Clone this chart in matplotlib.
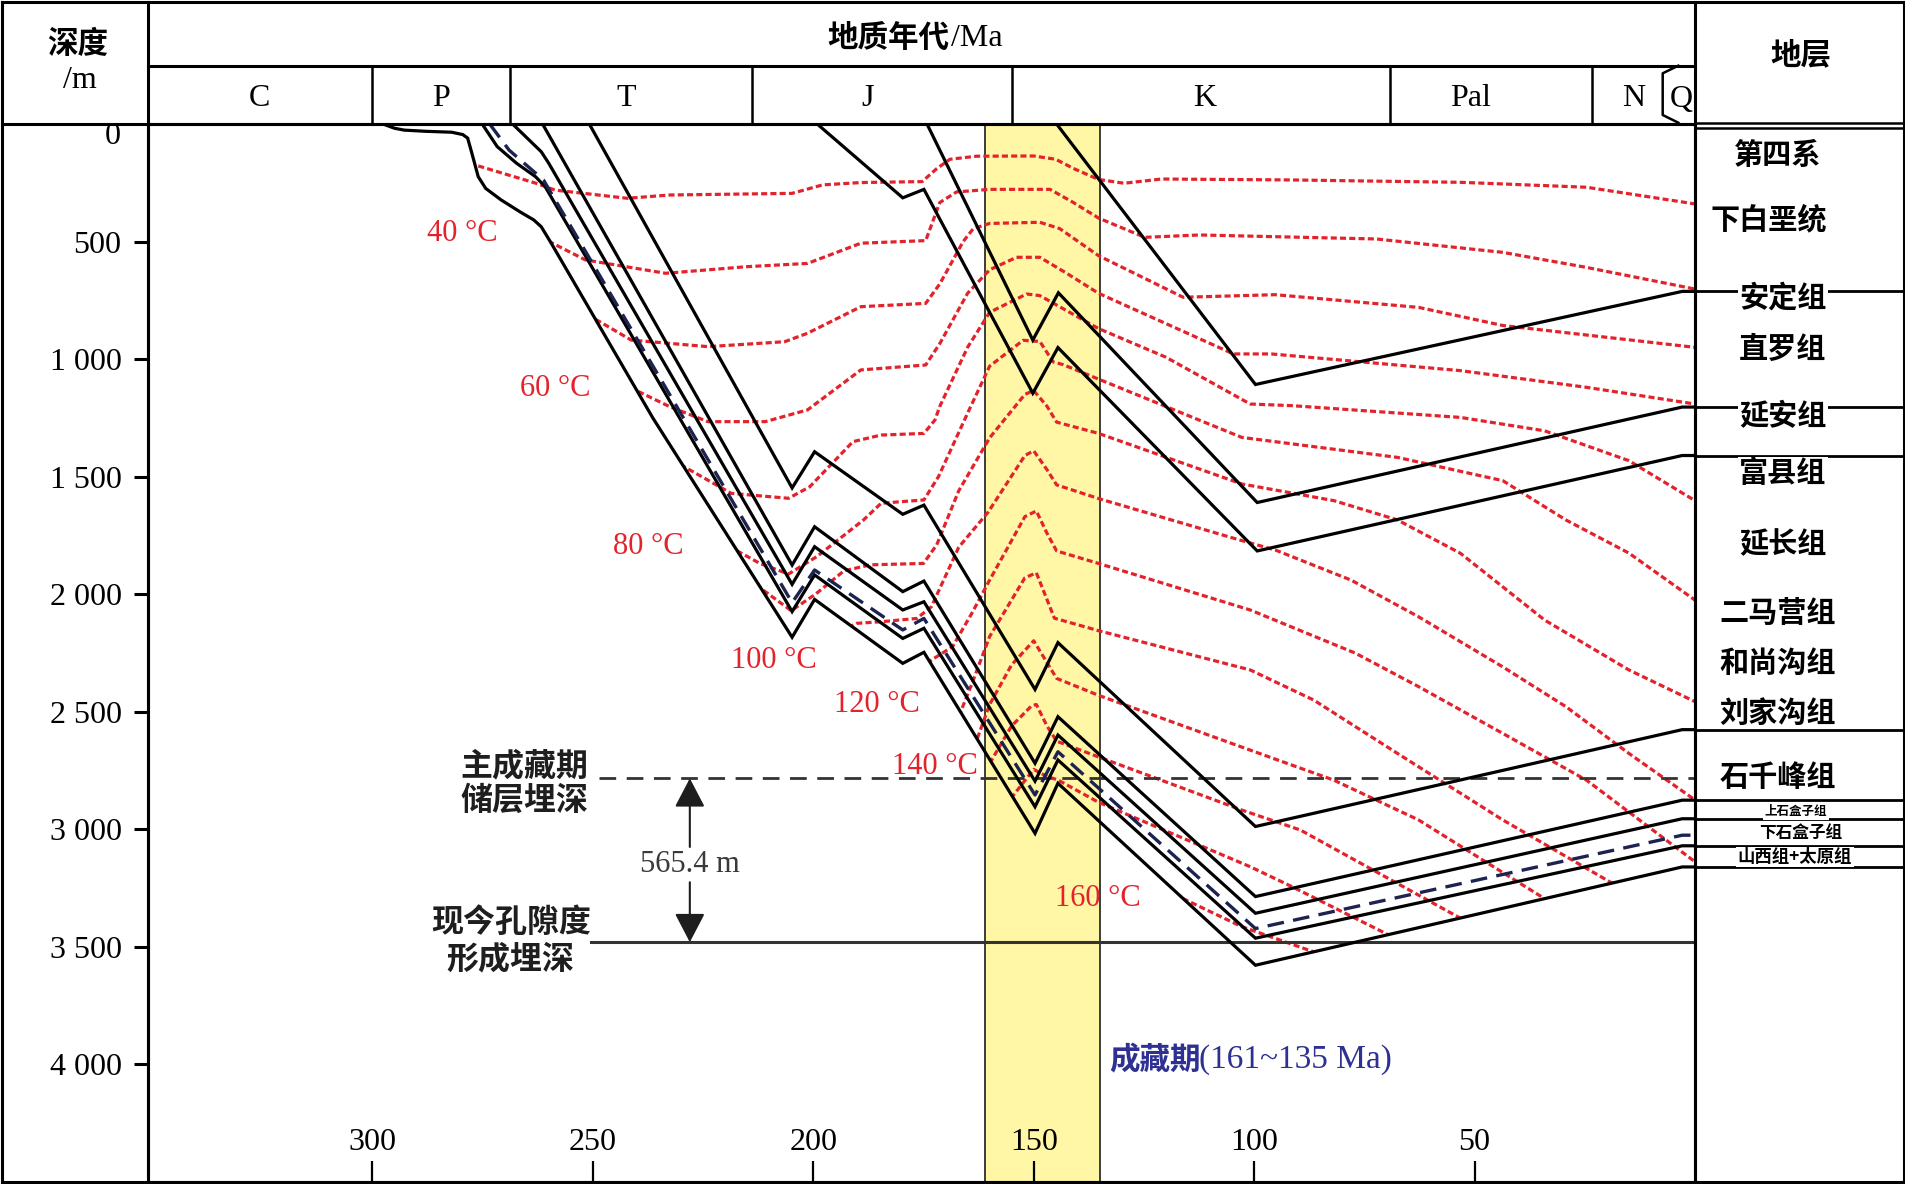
import matplotlib
matplotlib.use('Agg')
import matplotlib.pyplot as plt
from matplotlib.patches import Polygon

# ---- burial curves (age Ma, depth m) ----
c1 = [(144.8, 0), (99.7, 1108), (2.9, 712), (0, 712)]
c2 = [(174.2, 0), (150.2, 919), (144.4, 718), (99.3, 1610), (2.9, 1204), (0, 1204)]
c3 = [(199.1, 0), (179.7, 314), (174.9, 278), (150.2, 1145), (144.5, 951), (99.3, 1816),
      (2.9, 1410), (0, 1410)]
c4 = [(250.8, 0), (204.8, 1548), (199.7, 1394), (179.7, 1660), (174.9, 1621), (149.7, 2405),
      (144.5, 2206), (99.7, 2988), (2.9, 2576), (0, 2576)]
c5 = [(261.4, 0), (204.8, 1876), (199.7, 1713), (179.7, 1989), (174.9, 1944), (149.7, 2719),
      (144.5, 2521), (99.7, 3286), (2.9, 2876), (0, 2876)]
c6 = [(268.2, 0), (261.7, 118), (260.0, 167), (204.8, 1958), (199.7, 1798), (179.7, 2067),
      (174.9, 2032), (149.7, 2795), (144.5, 2599), (99.7, 3357), (2.9, 2955), (0, 2955)]
reservoir = [(273.4, 0), (269.0, 111), (261.2, 238), (204.8, 2036), (199.7, 1897), (179.7, 2152),
             (174.9, 2103), (149.7, 2854), (144.5, 2670), (99.7, 3422), (2.9, 3025), (0, 3025)]
c8 = [(275.1, 0), (271.7, 96), (267.3, 167), (263.0, 224), (260.8, 267), (204.8, 2074),
      (199.7, 1918), (179.7, 2188), (174.9, 2145), (149.7, 2904), (144.5, 2705), (99.7, 3463),
      (2.9, 3070), (0, 3070)]
c9 = [(297.6, 0), (295, 18), (292.8, 26), (288, 31), (282, 35), (279.5, 45), (278.4, 60),
      (277.5, 120), (276, 224), (274.3, 274), (270.8, 323), (266.4, 375), (263.4, 408),
      (261.7, 437), (259.5, 505), (236.4, 1250), (204.8, 2183), (199.7, 2022), (179.7, 2294),
      (174.9, 2247), (149.7, 3017), (144.5, 2804), (99.7, 3578), (2.9, 3160), (0, 3160)]
black_curves = [c1, c2, c3, c4, c5, c6, c8, c9]

# ---- isotherms (age Ma, depth m) ----
iso30 = [(278, 167), (262.9, 252), (258.6, 281), (242.2, 316), (232.6, 302), (204.8, 295),
         (197.9, 259), (189.2, 249), (175.3, 245), (172, 190), (169, 150), (163, 137), (150, 136),
         (145, 150), (141, 189), (135.3, 236), (129.5, 252), (121, 234), (91.4, 238), (53.2, 248),
         (24.6, 269), (0, 340)]
iso40 = [(262, 480), (251.7, 578), (233.5, 635), (215.2, 607), (201.3, 593), (189.2, 507),
         (174.5, 496), (171.3, 334), (167.5, 289), (160, 278), (146.3, 278), (141, 334),
         (135.3, 400), (124.8, 482), (112.4, 472), (72.3, 489), (43.6, 546), (24.6, 610), (0, 702)]
iso50 = [(253, 791), (241.3, 919), (223.9, 947), (206.5, 926), (201.3, 890), (189.2, 777),
         (174.5, 763), (171.3, 680), (166, 500), (163.7, 445), (160, 423), (148.6, 418),
         (144.1, 445), (135.3, 560), (116.1, 737), (95.2, 726), (62.7, 780), (43.6, 857), (0, 950)]
iso60 = [(243.5, 1103), (232.6, 1202), (223.9, 1266), (210.9, 1266), (201.3, 1216), (189.2, 1046),
         (174.5, 1025), (171.3, 934), (165, 720), (160, 620), (153.9, 567), (148.6, 567),
         (142.6, 634), (135.3, 720), (104.7, 978), (96.1, 978), (53.2, 1049), (24.6, 1120), (0, 1191)]
iso70 = [(232, 1429), (218.6, 1571), (205.6, 1592), (200.8, 1543), (191, 1351), (184.6, 1323),
         (174.9, 1316), (172.4, 1259), (171.3, 1201), (165, 950), (160, 801), (151.6, 723),
         (148.6, 730), (144.8, 770), (135.3, 870), (120, 992), (100.9, 1191), (91.4, 1198),
         (53.2, 1248), (34.1, 1305), (15, 1432), (0, 1602)]
iso80 = [(221, 1777), (212.1, 1869), (205.6, 1914), (199.2, 1840), (188.6, 1684), (184.6, 1613),
         (174.9, 1599), (171.6, 1500), (165, 1230), (160, 1030), (152.4, 920), (148.6, 925),
         (145.6, 1012), (143.4, 1023), (135.3, 1085), (102.8, 1333), (67.5, 1418), (43.6, 1517),
         (29.3, 1684), (15, 1825), (0, 2025)]
iso90 = [(213, 1960), (205, 2070), (199.5, 2000), (193, 1900), (187, 1875), (175, 1869),
         (172, 1790), (167, 1560), (160, 1335), (152, 1150), (150, 1134), (147, 1200),
         (144.8, 1268), (135.3, 1316), (102.8, 1531), (81.9, 1602), (67.5, 1684), (53.2, 1826),
         (34.1, 2110), (15, 2322), (0, 2457)]
iso100 = [(194, 2160), (190.2, 2124), (184.6, 2117), (176.5, 2103), (173.2, 2053), (167, 1800),
          (160.3, 1650), (152, 1410), (150, 1390), (147, 1470), (144.8, 1535), (135.3, 1593),
          (102.8, 1772), (95.2, 1812), (78, 1940), (62.7, 2096), (43.6, 2309), (29.3, 2478),
          (15, 2677), (0, 2875)]
iso110 = [(174, 2300), (173.2, 2280), (168.4, 2223), (164, 2080), (160, 1940), (152, 1670),
          (149.4, 1646), (147, 1740), (144.8, 1816), (135.3, 1869), (100.9, 2067), (77, 2251),
          (62.7, 2393), (43.6, 2592), (24.6, 2791), (0, 3138)]
iso120 = [(167, 2520), (164, 2380), (160, 2180), (152, 1930), (149.4, 1909), (145.3, 2102),
          (135.3, 2155), (100.9, 2322), (86.5, 2450), (67.5, 2677), (43.6, 2960), (18.8, 3229),
          (15, 3300)]
iso130 = [(163.5, 2650), (160, 2469), (155, 2300), (150, 2198), (144.8, 2358), (135.3, 2430),
          (100.9, 2663), (81.9, 2791), (62.7, 2960), (34.1, 3295), (30, 3360)]
iso140 = [(160, 2720), (155, 2560), (150.5, 2475), (149.4, 2469), (147, 2560), (144.8, 2625),
          (135.3, 2692), (102.8, 2918), (89.5, 3003), (53.2, 3378), (50, 3420)]
iso150 = [(156.5, 2900), (150, 2745), (147, 2775), (144.5, 2790), (135.3, 2885), (100.9, 3159),
          (91.4, 3244), (69.4, 3450), (66, 3480)]
iso160 = [(120, 3260), (102.8, 3414), (86.5, 3521), (84, 3560)]
isotherms = [iso30, iso40, iso50, iso60, iso70, iso80, iso90, iso100, iso110, iso120,
             iso130, iso140, iso150, iso160]

iso_labels = ['40 °C', '60 °C', '80 °C', '100 °C', '120 °C', '140 °C', '160 °C']
iso_label_pos = [(279.7, 465), (258.5, 1127), (237.5, 1799), (209.0, 2283), (185.5, 2471),
                 (172.3, 2732), (135.5, 3296)]

# ---- time scale / strata ----
period_names = ['C', 'P', 'T', 'J', 'K', 'Pal', 'N', 'Q']
period_label_age = [325.7, 284.4, 242.5, 187.8, 111.2, 50.9, 14.1, 3.3]
period_bounds = [300.0, 268.7, 214.0, 155.0, 69.3, 23.4]

strata_names = ['第四系', '下白垩统', '安定组', '直罗组', '延安组', '富县组', '延长组', '二马营组',
                '和尚沟组', '刘家沟组', '石千峰组', '上石盒子组', '下石盒子组', '山西组+太原组']
strata_label_depth = [130, 405, 738, 955, 1239, 1485, 1787, 2078, 2291, 2504, 2775, 2924,
                      3014, 3117]
strata_label_age = [-18.7, -16.6, -19.8, -19.8, -19.8, -19.8, -19.8, -18.6, -18.6, -18.6,
                    -18.6, -22.8, -23.8, -22.6]
strata_label_size = [21, 21, 21, 21, 21, 21, 21, 21, 21, 21, 21, 9, 12, 12.5]

depth_ticks = [500, 1000, 1500, 2000, 2500, 3000, 3500, 4000]
depth_tick_labels = ['500', '1 000', '1 500', '2 000', '2 500', '3 000', '3 500', '4 000']
age_ticks = [300, 250, 200, 150, 100, 50]

charge_window = (161, 135)
charge_depth = 2783
porosity_depth = 3480
gap_label = '565.4 m'

SERIF = ['Liberation Serif', 'Noto Sans CJK SC']
CJK = ['Noto Sans CJK SC', 'Liberation Serif']
RED = '#e3232c'
INK = '#1e1e1e'

W, H = 1906, 1184
fig = plt.figure(figsize=(W / 100, H / 100), dpi=100)
ax = fig.add_axes([148 / W, 2 / H, (1695 - 148) / W, (1182 - 124) / H])
ax.set_xlim(350.9, 0)
ax.set_ylim(4500, 0)

# charge window band
ax.axvspan(charge_window[0], charge_window[1], color='#fff6a6', zorder=0.5, lw=0)
for a in charge_window:
    ax.axvline(a, color='#3c3c3c', lw=1.4, zorder=0.6)

# basement clip region (isotherms only inside the sedimentary column)
clip_pts = [(360, -100)] + c9 + [(-1, c9[-1][1]), (-1, -100)]
clip_poly = Polygon(clip_pts, closed=True, transform=ax.transData)

for iso in isotherms:
    ln, = ax.plot([p[0] for p in iso], [p[1] for p in iso], color=RED, lw=2.3,
                  linestyle=(0, (1.9, 1.0)), zorder=2)
    ln.set_clip_path(clip_poly)

for curve in black_curves:
    ax.plot([p[0] for p in curve], [p[1] for p in curve], color='black', lw=2.3,
            solid_joinstyle='miter', zorder=3)
ax.plot([p[0] for p in reservoir], [p[1] for p in reservoir], color='#1c2350', lw=2.4,
        linestyle=(0, (5, 2.8)), zorder=3)

# reference depth lines
ax.plot([248.6, 0], [charge_depth, charge_depth], color='#333333', lw=2.0,
        linestyle=(0, (6, 3.8)), zorder=2.5)
ax.plot([250.4, 0], [porosity_depth, porosity_depth], color='#333333', lw=2.2, zorder=2.5)

# arrow between the two depths
arr = dict(arrowstyle='-|>,head_length=0.9,head_width=0.47', mutation_scale=20,
           color=INK, lw=1.5, shrinkA=0, shrinkB=0)
ax.annotate('', xy=(228, charge_depth), xytext=(228, 3075), arrowprops=arr)
ax.annotate('', xy=(228, porosity_depth), xytext=(228, 3225), arrowprops=arr)
ax.text(228, 3151, gap_label, ha='center', va='center', fontsize=22, color='#3a3a3a',
        family=SERIF)

ax.text(250.9, 2733, '主成藏期', ha='right', va='center', fontsize=23, family=CJK, color=INK,
        weight='bold')
ax.text(250.9, 2880, '储层埋深', ha='right', va='center', fontsize=23, family=CJK, color=INK,
        weight='bold')
ax.text(268.6, 3397, '现今孔隙度', ha='center', va='center', fontsize=23, family=CJK, color=INK,
        weight='bold')
ax.text(268.6, 3552, '形成埋深', ha='center', va='center', fontsize=23, family=CJK, color=INK,
        weight='bold')

for lab, (a, d) in zip(iso_labels, iso_label_pos):
    ax.text(a, d, lab, ha='center', va='center', fontsize=22, color=RED, family=SERIF, zorder=4)

ax.text(132.8, 3981, '成藏期', ha='left', va='center', fontsize=22, color='#2e3192',
        family=CJK, weight='bold')
ax.text(112.4, 3981, '(161~135 Ma)', ha='left', va='center', fontsize=24, color='#2e3192',
        family=SERIF)

# strata lines continuing into the right column
for curve in [c1, c2, c3, c4, c5, c6, c8, c9]:
    d = curve[-1][1]
    ax.plot([0, -47.2], [d, d], color='black', lw=2.0, clip_on=False, zorder=3)

# axes ticks
ax.set_yticks(depth_ticks)
ax.set_yticklabels(depth_tick_labels, family=SERIF, fontsize=23)
ax.tick_params(axis='y', direction='out', length=10, width=2.2, pad=9, color='black')
ax.set_xticks(age_ticks)
ax.set_xticklabels([])
ax.tick_params(axis='x', direction='in', length=15, width=1.6, color='black')
for a in age_ticks:
    ax.text(a, 0.037, str(a), transform=ax.get_xaxis_transform(), ha='center', va='center',
            fontsize=23, family=SERIF)
for sp in ax.spines.values():
    sp.set_linewidth(2.2)

# ---- table frame (figure pixel overlay) ----
ov = fig.add_axes([0, 0, 1, 1])
ov.set_xlim(0, W)
ov.set_ylim(H, 0)
ov.axis('off')

def seg(x0, y0, x1, y1, lw=2.2):
    ov.plot([x0, x1], [y0, y1], color='black', lw=lw, solid_capstyle='projecting')

seg(2, 2, 1904, 2)
seg(2, 1182, 1904, 1182)
seg(2, 2, 2, 1182)
seg(1904, 2, 1904, 1182)
seg(148, 2, 148, 1182)
seg(1695, 2, 1695, 1182)
seg(148, 65.7, 1695, 65.7)
seg(2, 123.8, 1695, 123.8)
seg(1695, 122.7, 1904, 122.7, lw=1.8)
seg(1695, 127.6, 1904, 127.6, lw=1.8)

def age_to_px(a):
    return 1695.4 - a * 4.41

for b in period_bounds:
    x = age_to_px(b)
    seg(x, 65.7, x, 123.8, lw=1.8)
ov.plot([1678.3, 1662.7, 1662.7, 1678.3], [65.7, 73.3, 115, 122.7], color='black', lw=1.8)

for name, a in zip(period_names, period_label_age):
    ov.text(age_to_px(a), 99, name, ha='center', va='center', fontsize=23, family=SERIF)

ov.text(78, 44, '深度', ha='center', va='center', fontsize=22, family=CJK, weight='bold')
ov.text(80, 81, '/m', ha='center', va='center', fontsize=23, family=SERIF)
ov.text(949, 38, '地质年代', ha='right', va='center', fontsize=22, family=CJK, weight='bold')
ov.text(951, 38, '/Ma', ha='left', va='center', fontsize=23, family=SERIF)
ov.text(1801, 55, '地层', ha='center', va='center', fontsize=22, family=CJK, weight='bold')
ov.text(121, 137, '0', ha='right', va='center', fontsize=23, family=SERIF)

for name, d, a, fs in zip(strata_names, strata_label_depth, strata_label_age, strata_label_size):
    y = 124.4 + d * 0.23506
    ov.text(age_to_px(a), y, name, ha='center', va='center', fontsize=fs, family=CJK,
            weight='bold', bbox=dict(fc='white', ec='none', pad=1.0))

fig.savefig('out.png', dpi=100)
